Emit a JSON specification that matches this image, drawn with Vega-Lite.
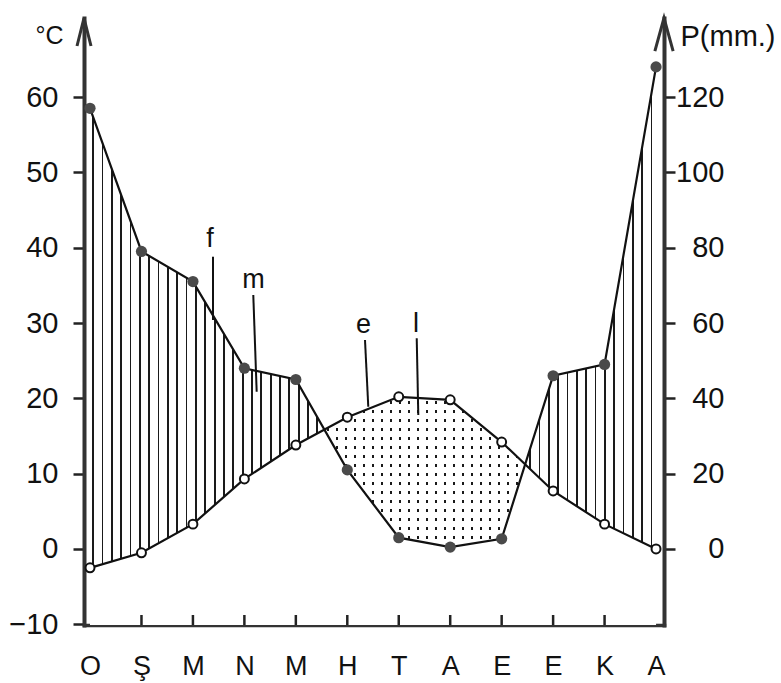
{
  "$schema": "https://vega.github.io/schema/vega-lite/v6.json",
  "width": 580,
  "height": 607,
  "autosize": {"type": "none"},
  "padding": {"left": 84, "top": 18, "right": 117, "bottom": 58},
  "background": "white",
  "config": {"font": "Liberation Sans", "view": {"stroke": null}},
  "datasets": {
    "climate": [
      {"i": 1, "m": "O", "t": -2.5, "p": 117},
      {"i": 2, "m": "Ş", "t": -0.5, "p": 79},
      {"i": 3, "m": "M", "t": 3.3, "p": 71},
      {"i": 4, "m": "N", "t": 9.3, "p": 48},
      {"i": 5, "m": "M", "t": 13.8, "p": 45},
      {"i": 6, "m": "H", "t": 17.5, "p": 21},
      {"i": 7, "m": "T", "t": 20.2, "p": 3},
      {"i": 8, "m": "A", "t": 19.8, "p": 0.5},
      {"i": 9, "m": "E", "t": 14.2, "p": 2.7},
      {"i": 10, "m": "E", "t": 7.7, "p": 46},
      {"i": 11, "m": "K", "t": 3.3, "p": 49},
      {"i": 12, "m": "A", "t": 0, "p": 128}
    ],
    "notes": [
      {"label": "f", "i": 3.332, "y": 40.09},
      {"label": "m", "i": 4.177, "y": 34.65},
      {"label": "e", "i": 6.315, "y": 28.67},
      {"label": "l", "i": 7.335, "y": 28.8}
    ],
    "leaders": [
      {"i": 3.39, "i2": 3.39, "y": 38.8, "y2": 30.4},
      {"i": 4.173, "i2": 4.239, "y": 33.72, "y2": 20.88},
      {"i": 6.344, "i2": 6.408, "y": 27.74, "y2": 18.89},
      {"i": 7.349, "i2": 7.38, "y": 27.97, "y2": 17.79}
    ]
  },
  "data": {"name": "climate"},
  "encoding": {
    "x": {
      "field": "i",
      "type": "quantitative",
      "scale": {"domain": [0.883, 12.155], "nice": false, "zero": false},
      "axis": {
        "values": [1, 2, 3, 4, 5, 6, 7, 8, 9, 10, 11, 12],
        "labelExpr": "['O','Ş','M','N','M','H','T','A','E','E','K','A'][datum.value - 1]",
        "title": null,
        "grid": false,
        "domainWidth": 3.5,
        "domainColor": "#333",
        "domainCap": "square",
        "ticks": false,
        "labelFontSize": 27,
        "labelColor": "#111",
        "labelPadding": 28,
        "labelBaseline": "top",
        "labelFlush": false,
        "labelOverlap": false
      }
    }
  },
  "resolve": {"scale": {"y": "independent"}},
  "layer": [
    {
      "mark": {
        "type": "area",
        "stroke": null,
        "fill": {
          "gradient": "linear", "x1": 0, "y1": 0, "x2": 1, "y2": 0,
          "stops": [
            {"offset": 0, "color": "#fff"},
            {"offset": 0.004, "color": "#fff"}, {"offset": 0.004, "color": "#1a1a1a"}, {"offset": 0.0072, "color": "#1a1a1a"}, {"offset": 0.0072, "color": "#fff"},
            {"offset": 0.0205, "color": "#fff"}, {"offset": 0.0205, "color": "#1a1a1a"}, {"offset": 0.0237, "color": "#1a1a1a"}, {"offset": 0.0237, "color": "#fff"},
            {"offset": 0.037, "color": "#fff"}, {"offset": 0.037, "color": "#1a1a1a"}, {"offset": 0.0402, "color": "#1a1a1a"}, {"offset": 0.0402, "color": "#fff"},
            {"offset": 0.0535, "color": "#fff"}, {"offset": 0.0535, "color": "#1a1a1a"}, {"offset": 0.0567, "color": "#1a1a1a"}, {"offset": 0.0567, "color": "#fff"},
            {"offset": 0.07, "color": "#fff"}, {"offset": 0.07, "color": "#1a1a1a"}, {"offset": 0.0732, "color": "#1a1a1a"}, {"offset": 0.0732, "color": "#fff"},
            {"offset": 0.0865, "color": "#fff"}, {"offset": 0.0865, "color": "#1a1a1a"}, {"offset": 0.0897, "color": "#1a1a1a"}, {"offset": 0.0897, "color": "#fff"},
            {"offset": 0.103, "color": "#fff"}, {"offset": 0.103, "color": "#1a1a1a"}, {"offset": 0.1062, "color": "#1a1a1a"}, {"offset": 0.1062, "color": "#fff"},
            {"offset": 0.1195, "color": "#fff"}, {"offset": 0.1195, "color": "#1a1a1a"}, {"offset": 0.1227, "color": "#1a1a1a"}, {"offset": 0.1227, "color": "#fff"},
            {"offset": 0.136, "color": "#fff"}, {"offset": 0.136, "color": "#1a1a1a"}, {"offset": 0.1392, "color": "#1a1a1a"}, {"offset": 0.1392, "color": "#fff"},
            {"offset": 0.1525, "color": "#fff"}, {"offset": 0.1525, "color": "#1a1a1a"}, {"offset": 0.1557, "color": "#1a1a1a"}, {"offset": 0.1557, "color": "#fff"},
            {"offset": 0.169, "color": "#fff"}, {"offset": 0.169, "color": "#1a1a1a"}, {"offset": 0.1722, "color": "#1a1a1a"}, {"offset": 0.1722, "color": "#fff"},
            {"offset": 0.1855, "color": "#fff"}, {"offset": 0.1855, "color": "#1a1a1a"}, {"offset": 0.1887, "color": "#1a1a1a"}, {"offset": 0.1887, "color": "#fff"},
            {"offset": 0.202, "color": "#fff"}, {"offset": 0.202, "color": "#1a1a1a"}, {"offset": 0.2052, "color": "#1a1a1a"}, {"offset": 0.2052, "color": "#fff"},
            {"offset": 0.2185, "color": "#fff"}, {"offset": 0.2185, "color": "#1a1a1a"}, {"offset": 0.2217, "color": "#1a1a1a"}, {"offset": 0.2217, "color": "#fff"},
            {"offset": 0.235, "color": "#fff"}, {"offset": 0.235, "color": "#1a1a1a"}, {"offset": 0.2382, "color": "#1a1a1a"}, {"offset": 0.2382, "color": "#fff"},
            {"offset": 0.2515, "color": "#fff"}, {"offset": 0.2515, "color": "#1a1a1a"}, {"offset": 0.2547, "color": "#1a1a1a"}, {"offset": 0.2547, "color": "#fff"},
            {"offset": 0.268, "color": "#fff"}, {"offset": 0.268, "color": "#1a1a1a"}, {"offset": 0.2712, "color": "#1a1a1a"}, {"offset": 0.2712, "color": "#fff"},
            {"offset": 0.2845, "color": "#fff"}, {"offset": 0.2845, "color": "#1a1a1a"}, {"offset": 0.2877, "color": "#1a1a1a"}, {"offset": 0.2877, "color": "#fff"},
            {"offset": 0.301, "color": "#fff"}, {"offset": 0.301, "color": "#1a1a1a"}, {"offset": 0.3042, "color": "#1a1a1a"}, {"offset": 0.3042, "color": "#fff"},
            {"offset": 0.3175, "color": "#fff"}, {"offset": 0.3175, "color": "#1a1a1a"}, {"offset": 0.3207, "color": "#1a1a1a"}, {"offset": 0.3207, "color": "#fff"},
            {"offset": 0.334, "color": "#fff"}, {"offset": 0.334, "color": "#1a1a1a"}, {"offset": 0.3372, "color": "#1a1a1a"}, {"offset": 0.3372, "color": "#fff"},
            {"offset": 0.3505, "color": "#fff"}, {"offset": 0.3505, "color": "#1a1a1a"}, {"offset": 0.3537, "color": "#1a1a1a"}, {"offset": 0.3537, "color": "#fff"},
            {"offset": 0.367, "color": "#fff"}, {"offset": 0.367, "color": "#1a1a1a"}, {"offset": 0.3702, "color": "#1a1a1a"}, {"offset": 0.3702, "color": "#fff"},
            {"offset": 0.3835, "color": "#fff"}, {"offset": 0.3835, "color": "#1a1a1a"}, {"offset": 0.3867, "color": "#1a1a1a"}, {"offset": 0.3867, "color": "#fff"},
            {"offset": 0.4, "color": "#fff"}, {"offset": 0.4, "color": "#1a1a1a"}, {"offset": 0.4032, "color": "#1a1a1a"}, {"offset": 0.4032, "color": "#fff"},
            {"offset": 0.776, "color": "#fff"}, {"offset": 0.776, "color": "#1a1a1a"}, {"offset": 0.7792, "color": "#1a1a1a"}, {"offset": 0.7792, "color": "#fff"},
            {"offset": 0.7925, "color": "#fff"}, {"offset": 0.7925, "color": "#1a1a1a"}, {"offset": 0.7957, "color": "#1a1a1a"}, {"offset": 0.7957, "color": "#fff"},
            {"offset": 0.809, "color": "#fff"}, {"offset": 0.809, "color": "#1a1a1a"}, {"offset": 0.8122, "color": "#1a1a1a"}, {"offset": 0.8122, "color": "#fff"},
            {"offset": 0.8255, "color": "#fff"}, {"offset": 0.8255, "color": "#1a1a1a"}, {"offset": 0.8287, "color": "#1a1a1a"}, {"offset": 0.8287, "color": "#fff"},
            {"offset": 0.842, "color": "#fff"}, {"offset": 0.842, "color": "#1a1a1a"}, {"offset": 0.8452, "color": "#1a1a1a"}, {"offset": 0.8452, "color": "#fff"},
            {"offset": 0.8585, "color": "#fff"}, {"offset": 0.8585, "color": "#1a1a1a"}, {"offset": 0.8617, "color": "#1a1a1a"}, {"offset": 0.8617, "color": "#fff"},
            {"offset": 0.875, "color": "#fff"}, {"offset": 0.875, "color": "#1a1a1a"}, {"offset": 0.8782, "color": "#1a1a1a"}, {"offset": 0.8782, "color": "#fff"},
            {"offset": 0.8915, "color": "#fff"}, {"offset": 0.8915, "color": "#1a1a1a"}, {"offset": 0.8947, "color": "#1a1a1a"}, {"offset": 0.8947, "color": "#fff"},
            {"offset": 0.908, "color": "#fff"}, {"offset": 0.908, "color": "#1a1a1a"}, {"offset": 0.9112, "color": "#1a1a1a"}, {"offset": 0.9112, "color": "#fff"},
            {"offset": 0.9245, "color": "#fff"}, {"offset": 0.9245, "color": "#1a1a1a"}, {"offset": 0.9277, "color": "#1a1a1a"}, {"offset": 0.9277, "color": "#fff"},
            {"offset": 0.941, "color": "#fff"}, {"offset": 0.941, "color": "#1a1a1a"}, {"offset": 0.9442, "color": "#1a1a1a"}, {"offset": 0.9442, "color": "#fff"},
            {"offset": 0.9575, "color": "#fff"}, {"offset": 0.9575, "color": "#1a1a1a"}, {"offset": 0.9607, "color": "#1a1a1a"}, {"offset": 0.9607, "color": "#fff"},
            {"offset": 0.974, "color": "#fff"}, {"offset": 0.974, "color": "#1a1a1a"}, {"offset": 0.9772, "color": "#1a1a1a"}, {"offset": 0.9772, "color": "#fff"},
            {"offset": 0.9905, "color": "#fff"}, {"offset": 0.9905, "color": "#1a1a1a"}, {"offset": 0.9937, "color": "#1a1a1a"}, {"offset": 0.9937, "color": "#fff"},
            {"offset": 1, "color": "#fff"}
          ]
        }
      },
      "encoding": {
        "y": {"field": "p", "type": "quantitative", "scale": {"domain": [-20.18, 140.98], "nice": false, "zero": false}, "axis": null},
        "y2": {"datum": -20}
      }
    },
    {
      "mark": {
        "type": "area",
        "stroke": null,
        "fill": {
          "gradient": "linear", "x1": 0, "y1": 0, "x2": 0, "y2": 1,
          "stops": [
            {"offset": 0, "color": "#fff"},
            {"offset": 0.02, "color": "#fff"}, {"offset": 0.02, "color": "#1a1a1a"}, {"offset": 0.031, "color": "#1a1a1a"}, {"offset": 0.031, "color": "#fff"},
            {"offset": 0.0594, "color": "#fff"}, {"offset": 0.0594, "color": "#1a1a1a"}, {"offset": 0.0704, "color": "#1a1a1a"}, {"offset": 0.0704, "color": "#fff"},
            {"offset": 0.0988, "color": "#fff"}, {"offset": 0.0988, "color": "#1a1a1a"}, {"offset": 0.1098, "color": "#1a1a1a"}, {"offset": 0.1098, "color": "#fff"},
            {"offset": 0.1382, "color": "#fff"}, {"offset": 0.1382, "color": "#1a1a1a"}, {"offset": 0.1492, "color": "#1a1a1a"}, {"offset": 0.1492, "color": "#fff"},
            {"offset": 0.1776, "color": "#fff"}, {"offset": 0.1776, "color": "#1a1a1a"}, {"offset": 0.1886, "color": "#1a1a1a"}, {"offset": 0.1886, "color": "#fff"},
            {"offset": 0.217, "color": "#fff"}, {"offset": 0.217, "color": "#1a1a1a"}, {"offset": 0.228, "color": "#1a1a1a"}, {"offset": 0.228, "color": "#fff"},
            {"offset": 0.2564, "color": "#fff"}, {"offset": 0.2564, "color": "#1a1a1a"}, {"offset": 0.2674, "color": "#1a1a1a"}, {"offset": 0.2674, "color": "#fff"},
            {"offset": 0.2958, "color": "#fff"}, {"offset": 0.2958, "color": "#1a1a1a"}, {"offset": 0.3068, "color": "#1a1a1a"}, {"offset": 0.3068, "color": "#fff"},
            {"offset": 0.3352, "color": "#fff"}, {"offset": 0.3352, "color": "#1a1a1a"}, {"offset": 0.3462, "color": "#1a1a1a"}, {"offset": 0.3462, "color": "#fff"},
            {"offset": 0.3746, "color": "#fff"}, {"offset": 0.3746, "color": "#1a1a1a"}, {"offset": 0.3856, "color": "#1a1a1a"}, {"offset": 0.3856, "color": "#fff"},
            {"offset": 0.414, "color": "#fff"}, {"offset": 0.414, "color": "#1a1a1a"}, {"offset": 0.425, "color": "#1a1a1a"}, {"offset": 0.425, "color": "#fff"},
            {"offset": 0.4534, "color": "#fff"}, {"offset": 0.4534, "color": "#1a1a1a"}, {"offset": 0.4644, "color": "#1a1a1a"}, {"offset": 0.4644, "color": "#fff"},
            {"offset": 0.4928, "color": "#fff"}, {"offset": 0.4928, "color": "#1a1a1a"}, {"offset": 0.5038, "color": "#1a1a1a"}, {"offset": 0.5038, "color": "#fff"},
            {"offset": 0.5322, "color": "#fff"}, {"offset": 0.5322, "color": "#1a1a1a"}, {"offset": 0.5432, "color": "#1a1a1a"}, {"offset": 0.5432, "color": "#fff"},
            {"offset": 0.5716, "color": "#fff"}, {"offset": 0.5716, "color": "#1a1a1a"}, {"offset": 0.5826, "color": "#1a1a1a"}, {"offset": 0.5826, "color": "#fff"},
            {"offset": 0.611, "color": "#fff"}, {"offset": 0.611, "color": "#1a1a1a"}, {"offset": 0.622, "color": "#1a1a1a"}, {"offset": 0.622, "color": "#fff"},
            {"offset": 0.6504, "color": "#fff"}, {"offset": 0.6504, "color": "#1a1a1a"}, {"offset": 0.6614, "color": "#1a1a1a"}, {"offset": 0.6614, "color": "#fff"},
            {"offset": 1, "color": "#fff"}
          ]
        }
      },
      "encoding": {
        "y": {"field": "t", "type": "quantitative", "scale": {"domain": [-10.09, 70.49], "nice": false, "zero": false}, "axis": null},
        "y2": {"datum": -10.09}
      }
    },
    {
      "mark": {
        "type": "area",
        "stroke": null,
        "fill": {
          "gradient": "linear", "x1": 0, "y1": 0, "x2": 1, "y2": 0,
          "stops": [
            {"offset": 0, "color": "#fff"},
            {"offset": 0.418, "color": "#fff"}, {"offset": 0.418, "color": "rgba(255,255,255,0)"}, {"offset": 0.4224, "color": "rgba(255,255,255,0)"}, {"offset": 0.4224, "color": "#fff"},
            {"offset": 0.4339, "color": "#fff"}, {"offset": 0.4339, "color": "rgba(255,255,255,0)"}, {"offset": 0.4383, "color": "rgba(255,255,255,0)"}, {"offset": 0.4383, "color": "#fff"},
            {"offset": 0.4498, "color": "#fff"}, {"offset": 0.4498, "color": "rgba(255,255,255,0)"}, {"offset": 0.4542, "color": "rgba(255,255,255,0)"}, {"offset": 0.4542, "color": "#fff"},
            {"offset": 0.4657, "color": "#fff"}, {"offset": 0.4657, "color": "rgba(255,255,255,0)"}, {"offset": 0.4701, "color": "rgba(255,255,255,0)"}, {"offset": 0.4701, "color": "#fff"},
            {"offset": 0.4816, "color": "#fff"}, {"offset": 0.4816, "color": "rgba(255,255,255,0)"}, {"offset": 0.486, "color": "rgba(255,255,255,0)"}, {"offset": 0.486, "color": "#fff"},
            {"offset": 0.4975, "color": "#fff"}, {"offset": 0.4975, "color": "rgba(255,255,255,0)"}, {"offset": 0.5019, "color": "rgba(255,255,255,0)"}, {"offset": 0.5019, "color": "#fff"},
            {"offset": 0.5134, "color": "#fff"}, {"offset": 0.5134, "color": "rgba(255,255,255,0)"}, {"offset": 0.5178, "color": "rgba(255,255,255,0)"}, {"offset": 0.5178, "color": "#fff"},
            {"offset": 0.5293, "color": "#fff"}, {"offset": 0.5293, "color": "rgba(255,255,255,0)"}, {"offset": 0.5337, "color": "rgba(255,255,255,0)"}, {"offset": 0.5337, "color": "#fff"},
            {"offset": 0.5452, "color": "#fff"}, {"offset": 0.5452, "color": "rgba(255,255,255,0)"}, {"offset": 0.5496, "color": "rgba(255,255,255,0)"}, {"offset": 0.5496, "color": "#fff"},
            {"offset": 0.5611, "color": "#fff"}, {"offset": 0.5611, "color": "rgba(255,255,255,0)"}, {"offset": 0.5655, "color": "rgba(255,255,255,0)"}, {"offset": 0.5655, "color": "#fff"},
            {"offset": 0.577, "color": "#fff"}, {"offset": 0.577, "color": "rgba(255,255,255,0)"}, {"offset": 0.5814, "color": "rgba(255,255,255,0)"}, {"offset": 0.5814, "color": "#fff"},
            {"offset": 0.5929, "color": "#fff"}, {"offset": 0.5929, "color": "rgba(255,255,255,0)"}, {"offset": 0.5973, "color": "rgba(255,255,255,0)"}, {"offset": 0.5973, "color": "#fff"},
            {"offset": 0.6088, "color": "#fff"}, {"offset": 0.6088, "color": "rgba(255,255,255,0)"}, {"offset": 0.6132, "color": "rgba(255,255,255,0)"}, {"offset": 0.6132, "color": "#fff"},
            {"offset": 0.6247, "color": "#fff"}, {"offset": 0.6247, "color": "rgba(255,255,255,0)"}, {"offset": 0.6291, "color": "rgba(255,255,255,0)"}, {"offset": 0.6291, "color": "#fff"},
            {"offset": 0.6406, "color": "#fff"}, {"offset": 0.6406, "color": "rgba(255,255,255,0)"}, {"offset": 0.645, "color": "rgba(255,255,255,0)"}, {"offset": 0.645, "color": "#fff"},
            {"offset": 0.6565, "color": "#fff"}, {"offset": 0.6565, "color": "rgba(255,255,255,0)"}, {"offset": 0.6609, "color": "rgba(255,255,255,0)"}, {"offset": 0.6609, "color": "#fff"},
            {"offset": 0.6724, "color": "#fff"}, {"offset": 0.6724, "color": "rgba(255,255,255,0)"}, {"offset": 0.6768, "color": "rgba(255,255,255,0)"}, {"offset": 0.6768, "color": "#fff"},
            {"offset": 0.6883, "color": "#fff"}, {"offset": 0.6883, "color": "rgba(255,255,255,0)"}, {"offset": 0.6927, "color": "rgba(255,255,255,0)"}, {"offset": 0.6927, "color": "#fff"},
            {"offset": 0.7042, "color": "#fff"}, {"offset": 0.7042, "color": "rgba(255,255,255,0)"}, {"offset": 0.7086, "color": "rgba(255,255,255,0)"}, {"offset": 0.7086, "color": "#fff"},
            {"offset": 0.7201, "color": "#fff"}, {"offset": 0.7201, "color": "rgba(255,255,255,0)"}, {"offset": 0.7245, "color": "rgba(255,255,255,0)"}, {"offset": 0.7245, "color": "#fff"},
            {"offset": 0.736, "color": "#fff"}, {"offset": 0.736, "color": "rgba(255,255,255,0)"}, {"offset": 0.7404, "color": "rgba(255,255,255,0)"}, {"offset": 0.7404, "color": "#fff"},
            {"offset": 0.7519, "color": "#fff"}, {"offset": 0.7519, "color": "rgba(255,255,255,0)"}, {"offset": 0.7563, "color": "rgba(255,255,255,0)"}, {"offset": 0.7563, "color": "#fff"},
            {"offset": 1, "color": "#fff"}
          ]
        }
      },
      "encoding": {
        "y": {"field": "t", "type": "quantitative", "scale": {"domain": [-10.09, 70.49], "nice": false, "zero": false}, "axis": null},
        "y2": {"datum": -10.09}
      }
    },
    {
      "mark": {
        "type": "area",
        "stroke": null,
        "fill": {
          "gradient": "linear", "x1": 0, "y1": 0, "x2": 1, "y2": 0,
          "stops": [
            {"offset": 0, "color": "rgba(255,255,255,0)"},
            {"offset": 0.414, "color": "rgba(255,255,255,0)"},
            {"offset": 0.414, "color": "#fff"},
            {"offset": 0.7688, "color": "#fff"},
            {"offset": 0.7688, "color": "rgba(255,255,255,0)"},
            {"offset": 1, "color": "rgba(255,255,255,0)"}
          ]
        }
      },
      "encoding": {
        "y": {"field": "p", "type": "quantitative", "scale": {"domain": [-20.18, 140.98], "nice": false, "zero": false}, "axis": null},
        "y2": {"datum": -20}
      }
    },
    {
      "transform": [{"filter": "datum.i > 1 && datum.i < 12"}],
      "mark": {"type": "rule", "stroke": "#222", "strokeWidth": 2.5},
      "encoding": {
        "y": {"datum": -10.09, "type": "quantitative", "scale": {"domain": [-10.09, 70.49], "nice": false, "zero": false}, "axis": null},
        "y2": {"datum": -8.76}
      }
    },
    {
      "mark": {"type": "line", "stroke": "#111", "strokeWidth": 2.2},
      "encoding": {
        "y": {
          "field": "t", "type": "quantitative",
          "scale": {"domain": [-10.09, 70.49], "nice": false, "zero": false},
          "axis": {
            "orient": "left",
            "values": [-10, 0, 10, 20, 30, 40, 50, 60],
            "title": "°C",
            "titleAngle": 0,
            "titleAlign": "left",
            "titleBaseline": "alphabetic",
            "titleX": -49,
            "titleY": 25,
            "titleFontSize": 25,
            "titleFontWeight": "normal",
            "titleColor": "#111",
            "labelFontSize": 29,
            "labelColor": "#111",
            "labelPadding": 15,
            "tickSize": 11,
            "tickWidth": 2.5,
            "tickColor": "#222",
            "domainWidth": 4,
            "domainColor": "#333",
            "domainCap": "square",
            "grid": false,
            "labelFlush": false,
            "labelOverlap": false
          }
        }
      }
    },
    {
      "mark": {"type": "line", "stroke": "#111", "strokeWidth": 2.2},
      "encoding": {
        "y": {
          "field": "p", "type": "quantitative",
          "scale": {"domain": [-20.18, 140.98], "nice": false, "zero": false},
          "axis": {
            "orient": "right",
            "values": [0, 20, 40, 60, 80, 100, 120],
            "title": "P(mm.)",
            "titleAngle": 0,
            "titleAlign": "left",
            "titleBaseline": "alphabetic",
            "titleX": 16,
            "titleY": 27,
            "titleFontSize": 29,
            "titleFontWeight": "normal",
            "titleColor": "#111",
            "labelFontSize": 29,
            "labelColor": "#111",
            "labelAlign": "right",
            "labelPadding": 49,
            "tickSize": 11,
            "tickWidth": 2.5,
            "tickColor": "#222",
            "domainWidth": 4,
            "domainColor": "#333",
            "domainCap": "square",
            "grid": false,
            "labelFlush": false,
            "labelOverlap": false
          }
        }
      }
    },
    {
      "mark": {"type": "point", "shape": "circle", "filled": true, "fill": "#fff", "stroke": "#111", "strokeWidth": 2, "size": 80, "opacity": 1},
      "encoding": {
        "y": {"field": "t", "type": "quantitative", "scale": {"domain": [-10.09, 70.49], "nice": false, "zero": false}, "axis": null}
      }
    },
    {
      "mark": {"type": "point", "shape": "circle", "filled": true, "fill": "#4a4a4a", "stroke": null, "size": 125, "opacity": 1},
      "encoding": {
        "y": {"field": "p", "type": "quantitative", "scale": {"domain": [-20.18, 140.98], "nice": false, "zero": false}, "axis": null}
      }
    },
    {
      "data": {"name": "leaders"},
      "mark": {"type": "rule", "stroke": "#111", "strokeWidth": 2},
      "encoding": {
        "y": {"field": "y", "type": "quantitative", "scale": {"domain": [-10.09, 70.49], "nice": false, "zero": false}, "axis": null},
        "x2": {"field": "i2"},
        "y2": {"field": "y2"}
      }
    },
    {
      "data": {"name": "notes"},
      "mark": {"type": "text", "fontSize": 27, "align": "center", "baseline": "alphabetic", "color": "#111"},
      "encoding": {
        "y": {"field": "y", "type": "quantitative", "scale": {"domain": [-10.09, 70.49], "nice": false, "zero": false}, "axis": null},
        "text": {"field": "label"}
      }
    },
    {
      "data": {"values": [{"i": 0.883, "y": 70.49}]},
      "mark": {"type": "point", "shape": "M-0.5,2L0,0L0.5,2", "filled": false, "stroke": "#333", "strokeWidth": 3, "size": 784, "opacity": 1, "clip": false},
      "encoding": {
        "y": {"field": "y", "type": "quantitative", "scale": {"domain": [-10.09, 70.49], "nice": false, "zero": false}, "axis": null}
      }
    },
    {
      "data": {"values": [{"i": 12.155, "y": 70.49}]},
      "mark": {"type": "point", "shape": "M-0.55,2L0,0L0.55,2", "filled": false, "stroke": "#333", "strokeWidth": 3, "size": 1100, "opacity": 1, "clip": false},
      "encoding": {
        "y": {"field": "y", "type": "quantitative", "scale": {"domain": [-10.09, 70.49], "nice": false, "zero": false}, "axis": null}
      }
    }
  ]
}
